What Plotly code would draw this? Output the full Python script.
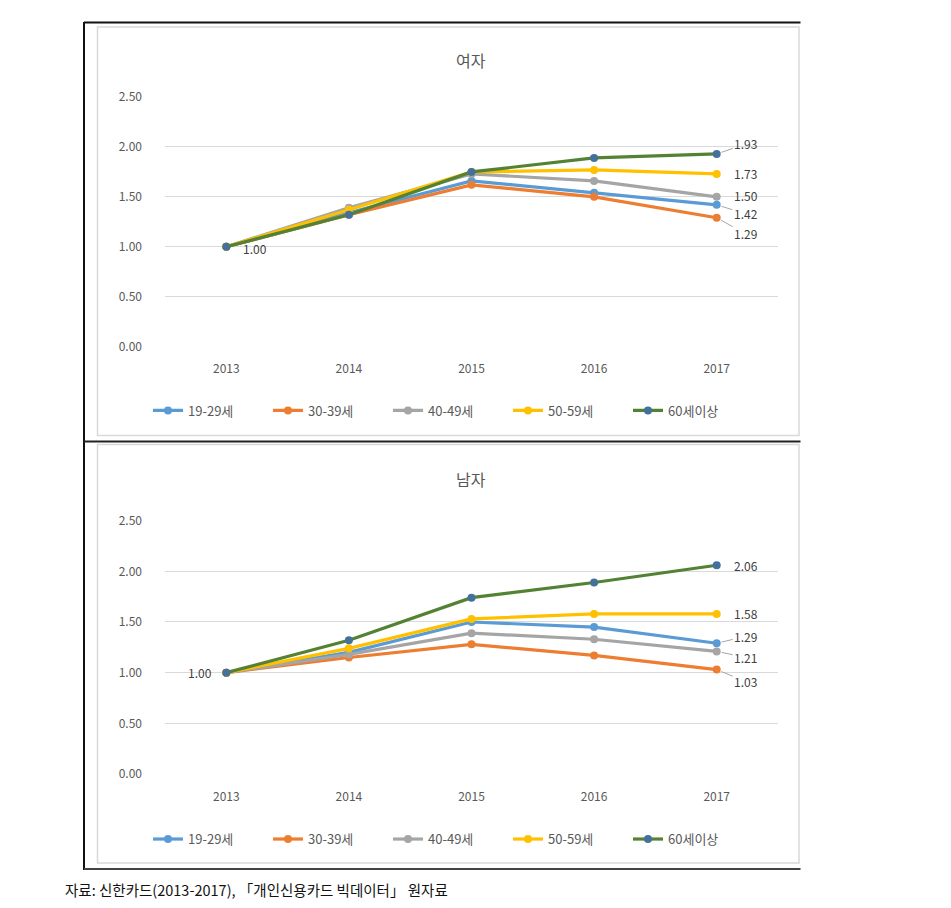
import plotly.graph_objects as go

# ---------------- data ----------------
years = ["2013", "2014", "2015", "2016", "2017"]
groups = ["19-29세", "30-39세", "40-49세", "50-59세", "60세이상"]

female_19_29 = [1.00, 1.34, 1.66, 1.54, 1.42]
female_30_39 = [1.00, 1.32, 1.62, 1.50, 1.29]
female_40_49 = [1.00, 1.39, 1.73, 1.66, 1.50]
female_50_59 = [1.00, 1.37, 1.75, 1.77, 1.73]
female_60p = [1.00, 1.32, 1.75, 1.89, 1.93]

male_19_29 = [1.00, 1.20, 1.50, 1.45, 1.29]
male_30_39 = [1.00, 1.15, 1.28, 1.17, 1.03]
male_40_49 = [1.00, 1.18, 1.39, 1.33, 1.21]
male_50_59 = [1.00, 1.24, 1.53, 1.58, 1.58]
male_60p = [1.00, 1.32, 1.74, 1.89, 2.06]

female = [female_19_29, female_30_39, female_40_49, female_50_59, female_60p]
male = [male_19_29, male_30_39, male_40_49, male_50_59, male_60p]

y_ticks = [0.0, 0.5, 1.0, 1.5, 2.0, 2.5]
titles = ["여자", "남자"]
source = "자료: 신한카드(2013-2017), 「개인신용카드 빅데이터」 원자료"

# ---------------- style ----------------
line_colors = ["#5B9BD5", "#ED7D31", "#A5A5A5", "#FFC000", "#548235"]
marker_colors = ["#5B9BD5", "#ED7D31", "#A5A5A5", "#FFC000", "#44719C"]
FONT = "Noto Sans CJK KR"
TXT = "#595959"

W, H = 951, 908


def px(x):
    return x / W


def py(y):
    return 1 - ((y - 10) / 0.98) / H


fig = go.Figure()

for gi, g in enumerate(groups):
    fig.add_trace(go.Scatter(
        x=years, y=female[gi], name=g, mode="lines+markers",
        line=dict(color=line_colors[gi], width=3.2),
        marker=dict(size=8, color=marker_colors[gi]),
        xaxis="x", yaxis="y", legend="legend",
    ))
for gi, g in enumerate(groups):
    fig.add_trace(go.Scatter(
        x=years, y=male[gi], name=g, mode="lines+markers",
        line=dict(color=line_colors[gi], width=3.2),
        marker=dict(size=8, color=marker_colors[gi]),
        xaxis="x2", yaxis="y2", legend="legend2",
    ))

xdom = [px(165), px(778)]
axis_common = dict(
    type="category", showgrid=False, showline=False, zeroline=False,
    tickfont=dict(family=FONT, size=12, color=TXT), ticks="",
    ticklabelstandoff=14, range=[-0.5, 4.5], fixedrange=True,
)
yaxis_common = dict(
    range=[0, 2.5], tickvals=y_ticks, tickformat=".2f",
    showgrid=True, gridcolor="#D9D9D9", gridwidth=1,
    zeroline=False, showline=False, ticks="",
    tickfont=dict(family=FONT, size=12, color=TXT),
    ticklabelstandoff=22, fixedrange=True,
)

legend_common = dict(
    orientation="h", xanchor="left", yanchor="middle",
    font=dict(family=FONT, size=13, color=TXT),
    entrywidth=75, entrywidthmode="pixels",
    bgcolor="rgba(0,0,0,0)", traceorder="normal",
)

fig.update_layout(
    width=W, height=H,
    margin=dict(l=0, r=0, t=0, b=0),
    paper_bgcolor="white", plot_bgcolor="white",
    font=dict(family=FONT, color=TXT),
    xaxis=dict(domain=xdom, anchor="y", **axis_common),
    yaxis=dict(domain=[py(346), py(97)], anchor="x", **yaxis_common),
    xaxis2=dict(domain=xdom, anchor="y2", **axis_common),
    yaxis2=dict(domain=[py(773), py(520)], anchor="x2", **yaxis_common),
    legend=dict(x=px(148), y=py(410), **legend_common),
    legend2=dict(x=px(148), y=py(838), **legend_common),
    showlegend=True,
)

# frames
shapes = []
def line(x0, y0, x1, y1, color, width):
    shapes.append(dict(type="line", xref="paper", yref="paper",
                       x0=px(x0), y0=py(y0), x1=px(x1), y1=py(y1),
                       line=dict(color=color, width=width), layer="below"))

# inner chart borders
for (t, b) in [(27, 435), (444, 862)]:
    shapes.append(dict(type="rect", xref="paper", yref="paper",
                       x0=px(97.5), y0=py(b), x1=px(799), y1=py(t),
                       line=dict(color="#D9D9D9", width=1.5), layer="below"))
# outer black frame
line(84, 22.5, 800.5, 22.5, "#111111", 2)
line(84, 22, 84, 869, "#111111", 2)
line(84, 441, 800.5, 441, "#222222", 2)
line(84, 868, 800.5, 868, "#444444", 2)
fig.update_layout(shapes=shapes)

ann = []
# chart titles
for t, yy in zip(titles, [60, 478]):
    ann.append(dict(text=t, xref="paper", yref="paper", x=px(471), y=py(yy),
                    showarrow=False, xanchor="center", yanchor="middle",
                    font=dict(family=FONT, size=16, color=TXT)))

# data labels (offsets in pixels: dx, dy, leader line)
lab_fmt = "{:.2f}"
last = len(years) - 1
top_offsets = [(29, 9, True), (29, 16, True), (29, -1, False), (29, 0, False), (29, -10, True)]
bot_offsets = [(29, -7, True), (29, 12, True), (29, 6, True), (29, 0, False), (29, 0, False)]

for data, offs, xr, yr in [(female, top_offsets, "x", "y"), (male, bot_offsets, "x2", "y2")]:
    for gi in range(len(groups)):
        v = data[gi][last]
        dx, dy, lead = offs[gi]
        if lead:
            ann.append(dict(text=lab_fmt.format(v), xref=xr, yref=yr, x=last, y=v,
                            showarrow=True, arrowhead=0, arrowwidth=1, arrowcolor="#A6A6A6",
                            ax=dx, ay=dy, axref="pixel", ayref="pixel", standoff=5,
                            font=dict(family=FONT, size=12, color="#404040")))
        else:
            ann.append(dict(text=lab_fmt.format(v), xref=xr, yref=yr, x=last, y=v,
                            showarrow=False, xshift=dx, yshift=-dy,
                            font=dict(family=FONT, size=12, color="#404040")))

# starting labels 1.00
ann.append(dict(text=lab_fmt.format(female_60p[0]), xref="x", yref="y", x=0, y=female_60p[0],
                showarrow=False, xshift=29, yshift=-2,
                font=dict(family=FONT, size=12, color="#404040")))
ann.append(dict(text=lab_fmt.format(male_60p[0]), xref="x2", yref="y2", x=0, y=male_60p[0],
                showarrow=False, xshift=-26, yshift=0,
                font=dict(family=FONT, size=12, color="#404040")))

# source note
ann.append(dict(text=source, xref="paper", yref="paper", x=px(63), y=py(888),
                showarrow=False, xanchor="left", yanchor="middle",
                font=dict(family=FONT, size=14.5, color="#111111")))

fig.update_layout(annotations=ann)

fig.write_html("out.html",
               config={"displayModeBar": False},
               post_script="document.body.style.margin='0px';document.body.style.overflow='hidden';")
